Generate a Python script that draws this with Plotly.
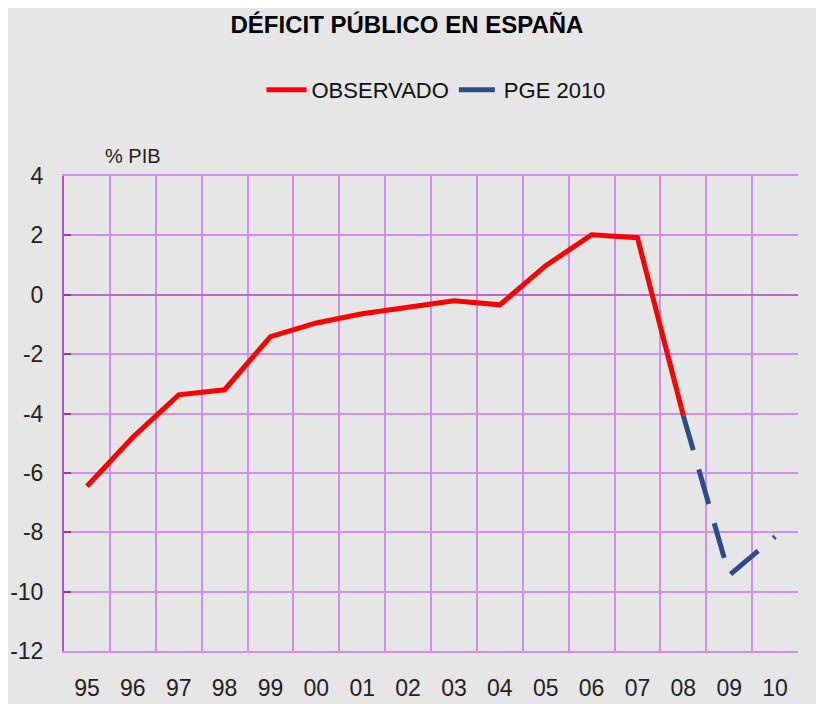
import plotly.graph_objects as go

years = ["95", "96", "97", "98", "99", "00", "01", "02", "03", "04", "05", "06", "07", "08", "09", "10"]
observado = [-6.45, -4.8, -3.37, -3.2, -1.41, -0.95, -0.64, -0.44, -0.2, -0.34, 0.98, 2.02, 1.92, -4.07]
pge_years = ["08", "09", "10"]
pge = [-4.07, -9.45, -8.15]
y_ticks = [-12, -10, -8, -6, -4, -2, 0, 2, 4]
y_ticktext = ["-12", "-10", "-8", "-6", "-4", "-2", "0", "2", "4"]

xpos = {y: i for i, y in enumerate(years)}

fig = go.Figure()
fig.add_trace(go.Scatter(
    x=[xpos[y] for y in years[:len(observado)]], y=observado, mode="lines",
    name="OBSERVADO", line=dict(color="#ff0000", width=5),
))
fig.add_trace(go.Scatter(
    x=[xpos[y] for y in pge_years], y=pge, mode="lines",
    name="PGE 2010", line=dict(color="#2f4a8c", width=5, dash="36px,20px"),
))

grid = "#d08ef0"
font = "Liberation Sans, Arial, sans-serif"

# page body has an 8px margin: figure occupies x 8..824, y 8..704
W, H = 816, 696
fig.update_layout(
    width=W, height=H,
    margin=dict(l=56, r=26, t=168, b=53),
    paper_bgcolor="#e6e6e6", plot_bgcolor="#e6e6e6",
    title=dict(text="<b>DÉFICIT PÚBLICO EN ESPAÑA</b>", x=(407 - 8) / W, xanchor="center",
               y=1 - 17 / H, yanchor="middle",
               font=dict(family=font, size=24, color="#000")),
    showlegend=True,
    legend=dict(orientation="h", x=(436 - 64) / 734, xanchor="center", y=1.181, yanchor="middle",
                font=dict(family=font, size=22, color="#111"), bgcolor="rgba(0,0,0,0)",
                itemwidth=40),
    font=dict(family=font, size=22, color="#222"),
    xaxis=dict(
        range=[-0.5, 15.5], tickmode="array", tickvals=list(range(len(years))), ticktext=years,
        showgrid=False, zeroline=False, ticks="", ticklabelstandoff=16, automargin=False,
        showline=True, linecolor=grid, linewidth=1.5, mirror=True,
        minor=dict(tickvals=[i - 0.5 for i in range(len(years) + 1)], showgrid=True,
                   gridcolor=grid, gridwidth=1.5, ticks=""),
        tickfont=dict(family=font, size=23, color="#222"),
    ),
    yaxis=dict(
        range=[-12, 4], tickmode="array", tickvals=y_ticks, ticktext=y_ticktext,
        showgrid=True, gridcolor=grid, gridwidth=1.5, automargin=False,
        zeroline=True, zerolinecolor="#bb66cc", zerolinewidth=2,
        showline=True, linecolor="#b455c4", linewidth=2,
        ticks="inside", ticklen=7, tickcolor="#a030b0", tickwidth=2,
        ticklabelstandoff=14,
        tickfont=dict(family=font, size=23, color="#222"),
    ),
    annotations=[dict(text="% PIB", xref="paper", yref="paper", x=(133 - 64) / 734,
                      y=(651 - 156) / 475, xanchor="center", yanchor="middle", showarrow=False,
                      font=dict(family=font, size=20, color="#222"))],
)

fig.write_html("out.html")
